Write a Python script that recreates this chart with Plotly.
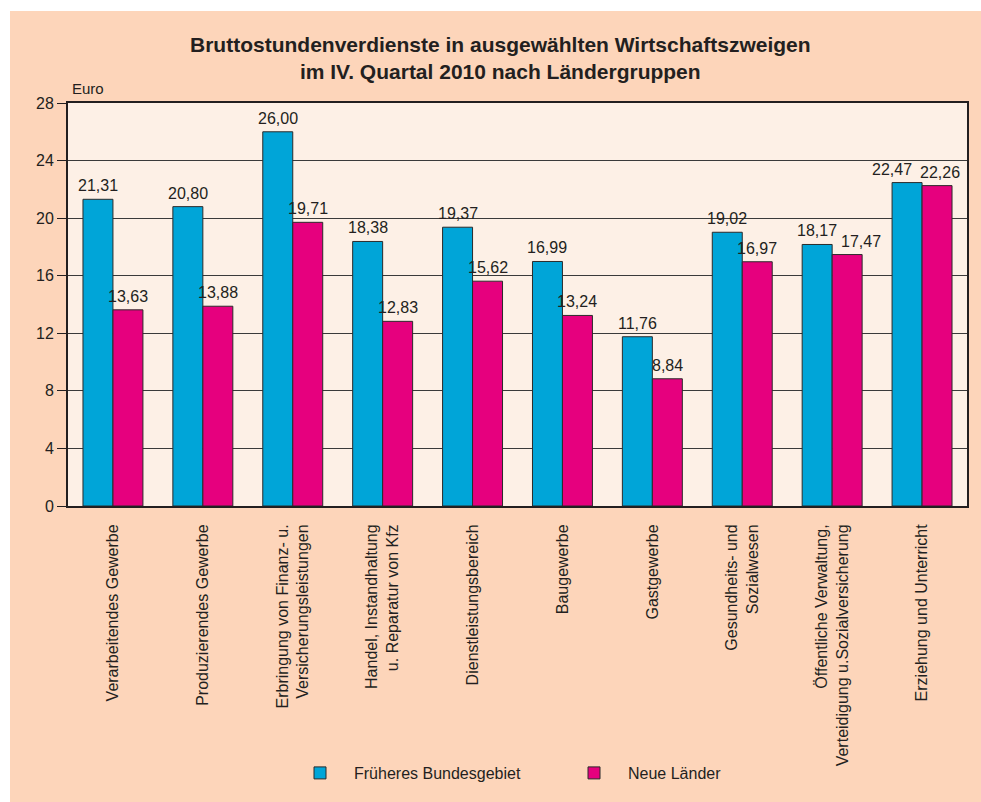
import plotly.graph_objects as go

categories = [
    "Verarbeitendes Gewerbe",
    "Produzierendes Gewerbe",
    "Erbringung von Finanz- u.<br>Versicherungsleistungen",
    "Handel, Instandhaltung<br>u. Reparatur von Kfz",
    "Dienstleistungsbereich",
    "Baugewerbe",
    "Gastgewerbe",
    "Gesundheits- und<br>Sozialwesen",
    "Öffentliche Verwaltung,<br>Verteidigung u.Sozialversicherung",
    "Erziehung und Unterricht",
]
frueheres = [21.31, 20.80, 26.00, 18.38, 19.37, 16.99, 11.76, 19.02, 18.17, 22.47]
neue = [13.63, 13.88, 19.71, 12.83, 15.62, 13.24, 8.84, 16.97, 17.47, 22.26]
y_ticks = [0, 4, 8, 12, 16, 20, 24, 28]

series_names = ["Früheres Bundesgebiet", "Neue Länder"]
colors = ["#00A5D8", "#E6007E"]
# horizontal nudges (px) of value labels where they would collide
label_nudge_f = [0, 0, 0, 0, 0, 0, 0, 0, 0, -15]
label_nudge_n = [0, 0, 0, 0, 0, 0, 0, 0, 14, 3]

FONT = "Liberation Sans, Arial, sans-serif"
TXT = "#231F20"

W, H = 981, 802
L, R, T, B = 68, 14, 103, 296
pw, ph = W - L - R, H - T - B


def px2x(px):
    return (px - L) / pw


def py2y(py):
    return (H - B - py) / ph


def fmt(v):
    return f"{v:.2f}".replace(".", ",")


fig = go.Figure()
for name, vals, col in zip(series_names, [frueheres, neue], colors):
    fig.add_trace(go.Bar(
        x=categories, y=vals, name=name,
        marker=dict(color=col, line=dict(color="#2b2b2b", width=1)),
    ))

annotations = [
    dict(text="<b>Bruttostundenverdienste in ausgewählten Wirtschaftszweigen<br>im IV. Quartal 2010 nach Ländergruppen</b>",
         xref="paper", yref="paper", x=px2x(500), y=py2y(58),
         xanchor="center", yanchor="middle", showarrow=False,
         font=dict(family=FONT, size=21, color=TXT)),
    dict(text="Euro", xref="paper", yref="paper", x=px2x(70), y=py2y(89),
         xanchor="left", yanchor="middle", showarrow=False,
         font=dict(family=FONT, size=15, color=TXT)),
]
for vals, base, nudges in [(frueheres, -15, label_nudge_f), (neue, 15, label_nudge_n)]:
    for c, v, n in zip(categories, vals, nudges):
        annotations.append(dict(
            text=fmt(v), x=c, y=v, xref="x", yref="y",
            xanchor="center", yanchor="bottom", xshift=base + n, yshift=3,
            showarrow=False, font=dict(family=FONT, size=16, color=TXT)))

fig.update_layout(
    width=W, height=H,
    margin=dict(l=L, r=R, t=T, b=B, pad=0),
    paper_bgcolor="white",
    plot_bgcolor="rgba(0,0,0,0)",
    barmode="group", bargap=0.333, bargroupgap=0,
    font=dict(family=FONT, size=16, color=TXT),
    showlegend=True,
    legend=dict(orientation="h", x=px2x(286), xanchor="left",
                y=py2y(773), yanchor="middle", itemwidth=58,
                bgcolor="rgba(0,0,0,0)", entrywidth=201,
                font=dict(family=FONT, size=16, color=TXT)),
    xaxis=dict(tickangle=-90, showgrid=False, showline=True, linecolor="#231F20",
               linewidth=2, mirror=True, ticks="", ticklabelstandoff=10,
               tickfont=dict(family=FONT, size=16, color=TXT)),
    yaxis=dict(range=[0, 28], tickvals=y_ticks, ticks="outside", ticklen=9,
               tickcolor="#231F20", tickwidth=1, showgrid=True,
               gridcolor="#3a3a3a", gridwidth=1, showline=True,
               linecolor="#231F20", linewidth=2, mirror=True, zeroline=False,
               tickfont=dict(family=FONT, size=16, color=TXT)),
    shapes=[
        dict(type="rect", xref="paper", yref="paper", layer="below",
             x0=px2x(10), x1=px2x(W + 2), y0=py2y(H + 2), y1=py2y(11),
             fillcolor="#FDD5BA", line=dict(width=0)),
        dict(type="rect", xref="paper", yref="paper", layer="below",
             x0=0, x1=1, y0=0, y1=1, fillcolor="#FDF0E6", line=dict(width=0)),
    ],
    annotations=annotations,
)

fig.write_html("out.html", config={"displayModeBar": False},
               post_script="document.body.style.margin='0';")
